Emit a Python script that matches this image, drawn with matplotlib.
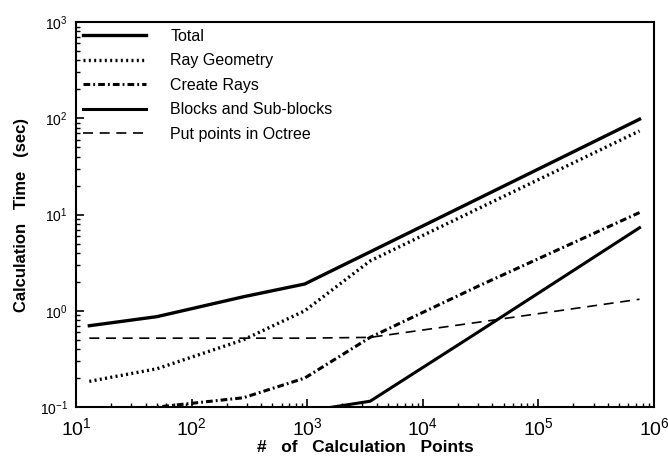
import math
import matplotlib
matplotlib.use("Agg")
import matplotlib.pyplot as plt
from matplotlib.ticker import FixedLocator, LogLocator, FuncFormatter, NullFormatter

plt.rcParams["font.family"] = ["Liberation Sans", "DejaVu Sans"]
plt.rcParams["mathtext.fontset"] = "custom"
plt.rcParams["mathtext.rm"] = "Liberation Sans"

# number of calculation points
points = [13, 50, 280, 950, 3500, 30000, 750000]

total = [0.70, 0.87, 1.4, 1.9, 4.1, 14.6, 98]
ray_geometry = [0.185, 0.25, 0.5, 1.0, 3.3, 11.5, 74]
create_rays = [0.085, 0.1, 0.125, 0.2, 0.53, 1.8, 10.5]
blocks = [0.02, 0.035, 0.06, 0.09, 0.115, 0.6, 7.3]
octree = [0.52, 0.52, 0.52, 0.52, 0.53, 0.76, 1.32]

labels = ["Total", "Ray Geometry", "Create Rays", "Blocks and Sub-blocks",
          "Put points in Octree"]

x_decades = [1e1, 1e2, 1e3, 1e4, 1e5, 1e6]
y_decades = [1e-1, 1e0, 1e1, 1e2, 1e3]

fig = plt.figure(figsize=(6.68, 4.61), dpi=100)
ax = fig.add_axes([0.114, 0.117, 0.865, 0.835])

ax.plot(points, total, color="black", lw=2.4, label=labels[0])
ax.plot(points, ray_geometry, color="black", lw=2.4, ls=(0, (0.6, 1.0)),
        label=labels[1])
ax.plot(points, create_rays, color="black", lw=2.2, ls=(0, (2.2, 1.0, 0.6, 1.0)),
        label=labels[2])
ax.plot(points, blocks, color="black", lw=2.2, label=labels[3])
ax.plot(points, octree, color="black", lw=1.2, ls=(0, (6, 4)), label=labels[4])

ax.set_xscale("log")
ax.set_yscale("log")
ax.set_xlim(10, 1e6)
ax.set_ylim(0.1, 1000)


def pow_label(v, pos):
    e = int(round(math.log10(v)))
    return r"$\mathregular{10^{%d}}$" % e


ax.xaxis.set_major_locator(FixedLocator(x_decades))
ax.yaxis.set_major_locator(FixedLocator(y_decades))
ax.xaxis.set_minor_locator(LogLocator(base=10, subs=range(2, 10)))
ax.yaxis.set_minor_locator(LogLocator(base=10, subs=range(2, 10)))
ax.xaxis.set_major_formatter(FuncFormatter(pow_label))
ax.yaxis.set_major_formatter(FuncFormatter(pow_label))
ax.xaxis.set_minor_formatter(NullFormatter())
ax.yaxis.set_minor_formatter(NullFormatter())

ax.tick_params(axis="x", which="major", direction="in", length=6, width=1.2,
               labelsize=14, pad=7)
ax.tick_params(axis="y", which="major", direction="in", length=6, width=1.2,
               labelsize=10, pad=6)
ax.tick_params(which="minor", direction="in", length=3, width=1)

for s in ax.spines.values():
    s.set_linewidth(1.5)

ax.set_xlabel("#   of   Calculation   Points", fontsize=12.5, fontweight="bold",
              labelpad=1)
ax.set_ylabel("Calculation   Time   (sec)", fontsize=12, fontweight="bold",
              labelpad=8)

ax.legend(loc="upper left", frameon=False, fontsize=11.5, handlelength=4.0,
          handletextpad=1.5, labelspacing=0.6, borderaxespad=0.1,
          borderpad=0.3)

# keep the last decade label inside the figure, as in the scan
fig.canvas.draw()
last = ax.get_xticklabels()[-1]
last.set_x(10 ** 5.93)

fig.savefig("out.png", dpi=100)
